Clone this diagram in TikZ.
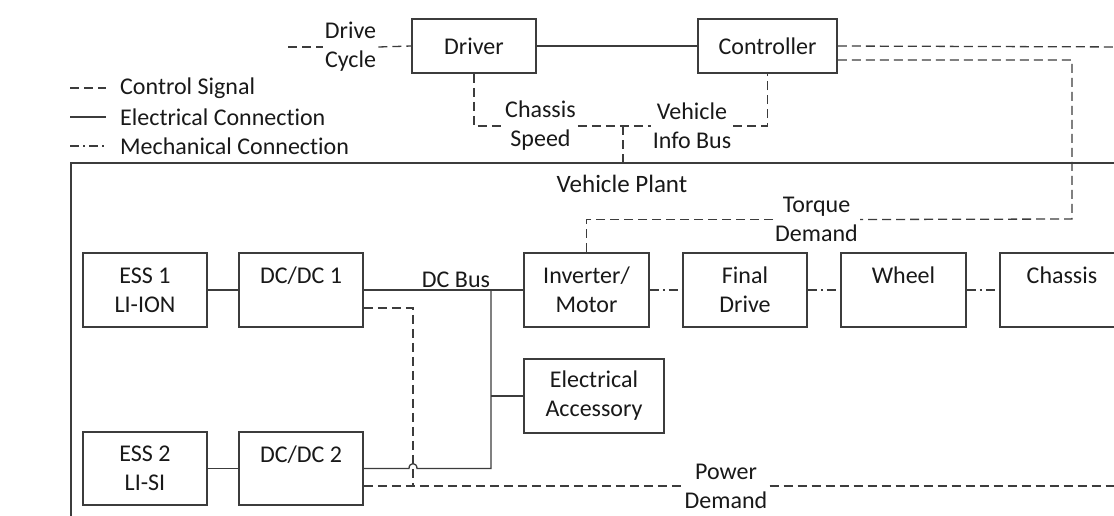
\documentclass[tikz,border=0pt]{standalone}
\usepackage{fontspec}
\setmainfont[Ligatures=NoCommon]{Carlito}
\definecolor{ln}{RGB}{60,60,60}
\definecolor{tx}{RGB}{25,25,25}
\begin{document}
\begin{tikzpicture}[x=1pt,y=-1pt,
  every node/.style={font=\fontsize{24}{29}\selectfont, text=tx},
  blk/.style={draw=ln, line width=1.6pt, minimum width=124pt, minimum height=74pt, align=center, inner sep=0pt},
  lbl/.style={align=center, inner sep=2pt},
  elec/.style={draw=ln, line width=1.3pt},
  ctrl/.style={draw=ln, line width=1.3pt, dash pattern=on 9pt off 5pt},
  mech/.style={draw=ln, line width=1.3pt, dash pattern=on 9pt off 4pt on 2pt off 4pt}]
\clip (0,0) rectangle (1114,515);
\fill[white] (0,0) rectangle (1114,515);

% legend
\coordinate (l1a) at (70,88); \coordinate (l1b) at (106,88);
\coordinate (l2a) at (70,117); \coordinate (l2b) at (106,117);
\coordinate (l3a) at (70,146); \coordinate (l3b) at (106,146);
\draw[ctrl] (l1a) -- (l1b);
\draw[elec] (l2a) -- (l2b);
\draw[mech] (l3a) -- (l3b);
\node[anchor=west, inner sep=0pt] (lg1) at (120,88) {Control Signal};
\node[anchor=west, inner sep=0pt] (lg2) at (120,117) {Electrical Connection};
\node[anchor=west, inner sep=0pt] (lg3) at (120,146) {Mechanical Connection};

% top
\node[blk, minimum height=54pt] (drv) at (474,46) {Driver};
\node[blk, minimum width=139pt, minimum height=54pt] (ctl) at (767.5,46) {Controller};
\coordinate (dcin) at (288,47);
\node[lbl] (dc) at (350.5,47) {Drive\\Cycle};
\draw[ctrl] (dcin) -- (dc.west);
\draw[ctrl] (dc.east) -- (drv.west);
\draw[elec] (drv.east) -- (ctl.west);

\node[lbl] (cs) at (540.5,126) {Chassis\\Speed};
\node[lbl] (vib) at (692,126) {Vehicle\\Info Bus};
\coordinate (jn) at (623,126);
\draw[ctrl] (drv.south) |- (cs.west);
\draw[ctrl] (cs.east) -- (jn) -- (vib.west);
\draw[ctrl] (vib.east) -| (ctl.south);

% plant
\node[draw=ln, line width=1.6pt, anchor=north west, minimum width=1080pt, minimum height=400pt, inner sep=0pt] (plant) at (70,162) {};
\node[font=\fontsize{25}{29}\selectfont] (vp) at (622,184) {Vehicle Plant};
\draw[ctrl] (jn) -- (jn |- plant.north);

% controller outputs
\coordinate (cr1) at (1130,47);
\draw[ctrl] (ctl.east) -- (cr1);
\coordinate (tdr) at (1072,219);
\node[lbl] (td) at (816.5,219.5) {Torque\\Demand};

% blocks
\node[blk] (ess1) at (145,290) {ESS 1\\LI-ION};
\node[blk] (dcdc1) at (301,290) {DC/DC 1\\\mbox{}};
\node[blk, minimum width=125pt] (inv) at (586.5,290) {Inverter/\\Motor};
\node[blk] (fd) at (745,290) {Final\\Drive};
\node[blk, minimum width=125pt] (wh) at (903.5,290) {Wheel\\\mbox{}};
\node[blk] (ch) at (1062,290) {Chassis\\\mbox{}};
\node[blk, minimum width=140pt] (acc) at (594,396) {Electrical\\Accessory};
\node[blk, minimum height=73pt] (ess2) at (145,468.5) {ESS 2\\LI-SI};
\node[blk, minimum height=73pt] (dcdc2) at (301,468.5) {DC/DC 2\\\mbox{}};

\draw[ctrl] ([yshift=-14pt]ctl.east) -| (tdr) -- (td.east);
\draw[ctrl] (td.west) -| (inv.north);

% electrical
\draw[elec] (ess1.east) -- (dcdc1.west);
\draw[elec] (ess2.east) -- (dcdc2.west);
\draw[elec] (dcdc1.east) -- (inv.west);
\node[inner sep=1pt, anchor=south] (dcb) at (456,289) {DC Bus};
\coordinate (bt) at (491,290);
\coordinate (bb) at (491,468.5);
\coordinate (ba) at (491,396);
\coordinate (h1) at (409,468.5);
\coordinate (h2) at (417,468.5);
\draw[elec] (bt) -- (bb) -- (h2) .. controls (417,462) and (409,462) .. (h1) -- (dcdc2.east);
\draw[elec] (ba) -- (acc.west);

% mechanical
\draw[mech] (inv.east) -- (fd.west);
\draw[mech] (fd.east) -- (wh.west);
\draw[mech] (wh.east) -- (ch.west);

% power demand
\node[lbl] (pd) at (726,486) {Power\\Demand};
\coordinate (pj) at (413,486);
\coordinate (pdr) at (1130,486);
\draw[ctrl] ([yshift=-18pt]dcdc1.east) -| (pj);
\draw[ctrl] ([yshift=-17.5pt]dcdc2.east) -- (pd.west);
\draw[ctrl] (pd.east) -- (pdr);
\end{tikzpicture}
\end{document}
